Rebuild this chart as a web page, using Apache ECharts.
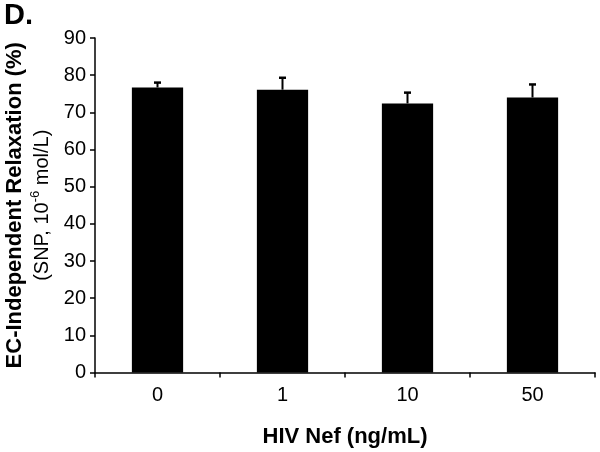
<!DOCTYPE html>
<html>
<head>
<meta charset="utf-8">
<script src="https://cdn.jsdelivr.net/npm/echarts@6/dist/echarts.min.js"></script>
<style>
  html, body { margin: 0; padding: 0; background: #fff; }
  #chart { width: 600px; height: 452px; }
</style>
</head>
<body>
<div id="chart"></div>
<script>
var categories = ["0", "1", "10", "50"];
var means = [76.7, 76.1, 72.4, 74.0];
var errors = [1.3, 3.2, 2.9, 3.5];
var yTicks = [0, 10, 20, 30, 40, 50, 60, 70, 80, 90];

var myChart = echarts.init(document.getElementById("chart"));
var font = "Liberation Sans, Arial, sans-serif";

// error bar data: [category index, mean, error]
var errData = means.map(function (m, i) {
  return [i, m, errors[i]];
});

var option = {
  animation: false,
  backgroundColor: "#fff",
  textStyle: { fontFamily: font, color: "#000" },
  grid: { left: 95, right: 5, top: 38, bottom: 79.5, containLabel: false, outerBoundsMode: "none" },
  graphic: [
    {
      type: "text",
      left: 4,
      top: 1,
      style: { text: "D.", fontFamily: font, fontSize: 29, fontWeight: "bold", fill: "#000" }
    }
  ],
  xAxis: {
    type: "category",
    data: categories,
    name: "HIV Nef (ng/mL)",
    nameLocation: "middle",
    nameGap: 53,
    nameTextStyle: { fontFamily: font, fontSize: 22, fontWeight: "bold", color: "#000" },
    axisLine: { lineStyle: { color: "#000", width: 1.5 } },
    axisTick: { show: true, length: 5, lineStyle: { color: "#000", width: 1.5 } },
    axisLabel: { margin: 13, fontFamily: font, fontSize: 20, color: "#000" },
    splitLine: { show: false }
  },
  yAxis: {
    type: "value",
    min: 0,
    max: 90,
    interval: 10,
    name: "{b|EC-Independent Relaxation (%)}\n{n|(SNP, 10}{s|-6}{n| mol/L)}",
    nameLocation: "middle",
    nameRotate: 90,
    nameGap: 37,
    nameTextStyle: {
      fontFamily: font,
      color: "#000",
      rich: {
        b: { fontFamily: font, fontSize: 22, fontWeight: "bold", lineHeight: 28, color: "#000" },
        n: { fontFamily: font, fontSize: 20, lineHeight: 28, color: "#000" },
        s: { fontFamily: font, fontSize: 13, lineHeight: 15, verticalAlign: "top", color: "#000" }
      }
    },
    axisLine: { show: true, lineStyle: { color: "#000", width: 1.5 } },
    axisTick: { show: true, length: 5, lineStyle: { color: "#000", width: 1.5 } },
    axisLabel: {
      margin: 9,
      fontFamily: font,
      fontSize: 20,
      color: "#000",
      formatter: function (v) {
        return yTicks.indexOf(v) >= 0 ? String(v) : "";
      }
    },
    splitLine: { show: false }
  },
  series: [
    {
      name: "Relaxation",
      type: "bar",
      data: means,
      barWidth: "41%",
      itemStyle: { color: "#000" },
      z: 2
    },
    {
      name: "SEM",
      type: "custom",
      data: errData,
      z: 3,
      renderItem: function (params, api) {
        var i = api.value(0);
        var m = api.value(1);
        var e = api.value(2);
        var base = api.coord([i, m]);
        var top = api.coord([i, m + e]);
        var half = 3.5;
        return {
          type: "group",
          children: [
            {
              type: "line",
              shape: { x1: base[0], y1: base[1], x2: top[0], y2: top[1] },
              style: { stroke: "#000", lineWidth: 2 }
            },
            {
              type: "line",
              shape: { x1: top[0] - half, y1: top[1], x2: top[0] + half, y2: top[1] },
              style: { stroke: "#000", lineWidth: 2.5 }
            }
          ]
        };
      }
    }
  ]
};

myChart.setOption(option);
</script>
</body>
</html>
